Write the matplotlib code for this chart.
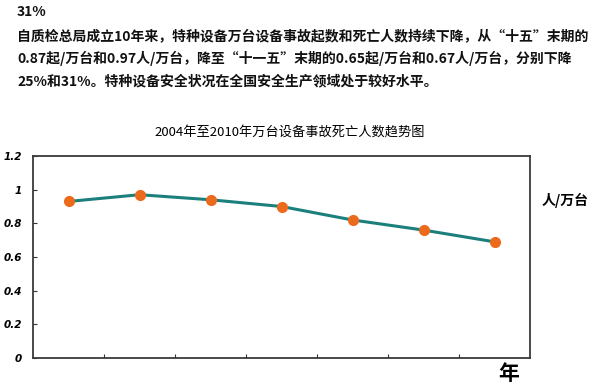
import matplotlib.pyplot as plt
import numpy as np

plt.rcParams['font.family'] = ['Noto Sans CJK SC', 'DejaVu Sans']

# 数据
years = ['2004', '2005', '2006', '2007', '2008', '2009', '2010']
deaths = [0.93, 0.97, 0.94, 0.90, 0.82, 0.76, 0.69]
y_ticks = [0, 0.2, 0.4, 0.6, 0.8, 1.0, 1.2]
y_labels = ['0', '0.2', '0.4', '0.6', '0.8', '1', '1.2']

intro_lines = [
    '31%',
    '自质检总局成立10年来，特种设备万台设备事故起数和死亡人数持续下降，从“十五”末期的',
    '0.87起/万台和0.97人/万台，降至“十一五”末期的0.65起/万台和0.67人/万台，分别下降',
    '25%和31%。特种设备安全状况在全国安全生产领域处于较好水平。',
]
title = '2004年至2010年万台设备事故死亡人数趋势图'

fig = plt.figure(figsize=(6, 3.92), dpi=100)
W, H = 600, 392

# 上方说明文字
line_y = [12, 36, 58, 81]
for txt, yy in zip(intro_lines, line_y):
    fig.text(17 / W, 1 - yy / H, txt, fontsize=10, fontweight='bold',
             va='center', ha='left', color='#111111')

# 图表区域
ax = fig.add_axes([33 / W, 1 - 358 / H, (530 - 33) / W, (358 - 156) / H])
x = np.arange(len(years))
ax.plot(x, deaths, color='#1b7f7c', lw=2.2, zorder=2)
ax.plot(x, deaths, 'o', color='#ec6a1c', markersize=7, zorder=3)

ax.set_xlim(-0.5, len(years) - 0.5)
ax.set_ylim(0, 1.2)
ax.set_xticks(np.arange(len(years) - 1) + 0.5)
ax.set_xticklabels([])
ax.set_yticks(y_ticks)
ax.set_yticklabels(y_labels, fontsize=7.5, fontweight='bold', fontstyle='italic',
                   family='DejaVu Sans')
ax.tick_params(axis='both', direction='in', length=3, width=0.8, color='#333333')
ax.tick_params(axis='y', pad=8)
for s in ax.spines.values():
    s.set_color('#3a3a3a')
    s.set_linewidth(1.3)

fig.text(290 / W, 1 - 133 / H, title, fontsize=9.5, ha='center', va='center')
fig.text(565 / W, 1 - 200 / H, '人/万台', fontsize=10, fontweight='bold',
         fontstyle='italic', ha='center', va='center')
fig.text(509 / W, 1 - 373 / H, '年', fontsize=15, fontweight='bold',
         ha='center', va='center')

fig.savefig('out.png', dpi=100)
